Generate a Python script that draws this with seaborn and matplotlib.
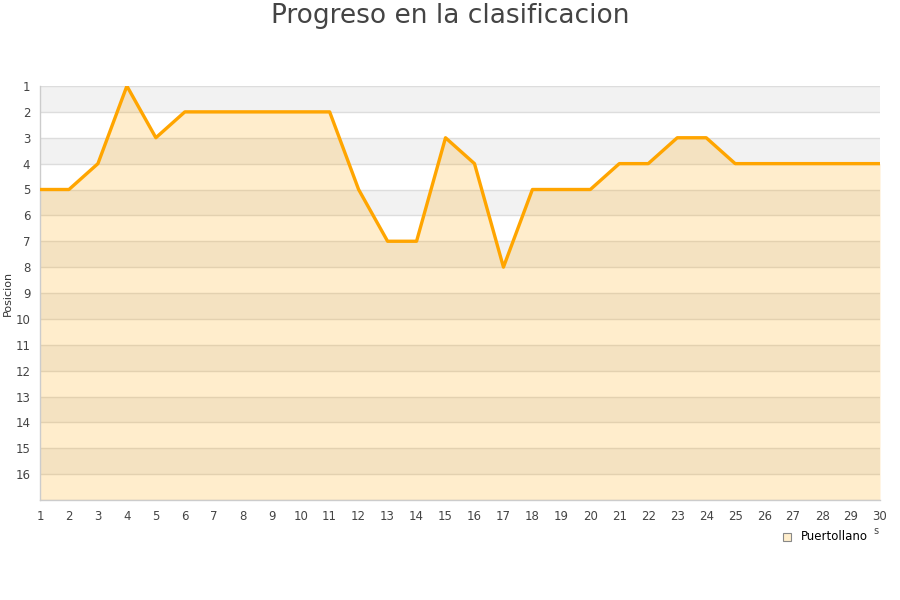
import matplotlib
matplotlib.use("Agg")
import matplotlib.pyplot as plt
import seaborn as sns
import pandas as pd

jornadas = list(range(1, 31))
posiciones = [5, 5, 4, 1, 3, 2, 2, 2, 2, 2, 2, 5, 7, 7, 3, 4, 8, 5, 5, 5,
              4, 4, 3, 3, 4, 4, 4, 4, 4, 4]
equipo = "Puertollano"
y_ticks = list(range(1, 17))

sns.set_theme(style="white")
plt.rcParams['font.family'] = ['DejaVu Sans']

df = pd.DataFrame({"Jornada": jornadas, "Posicion": posiciones})

fig = plt.figure(figsize=(9, 6), dpi=100)
ax = fig.add_axes([40/900, 100/600, 840/900, 414/600])

# alternating bands
for y in range(1, 17, 2):
    ax.axhspan(y, y + 1, color="#f2f2f2", zorder=0, lw=0)
for y in range(1, 18):
    ax.axhline(y, color="#dddddd", lw=1, zorder=1)

ax.fill_between(df["Jornada"], df["Posicion"], 17, color="#ffa500", alpha=0.2,
                lw=0, zorder=2)
sns.lineplot(data=df, x="Jornada", y="Posicion", ax=ax, color="#ffa500",
             lw=2.4, zorder=3)

ax.set_xlim(1, 30)
ax.set_ylim(17, 1)
ax.set_xticks(jornadas)
ax.set_yticks(y_ticks)
ax.tick_params(axis="both", labelsize=8.5, colors="#444444", length=0, pad=7)
ax.set_xlabel("")
ax.set_ylabel("Posicion", fontsize=8, color="#333333", labelpad=2)
for side in ["top", "right"]:
    ax.spines[side].set_visible(False)
for side in ["left", "bottom"]:
    ax.spines[side].set_color("#cccccc")
    ax.spines[side].set_linewidth(1)

fig.text(0.5, 1 - 16/600, "Progreso en la clasificacion", ha="center",
         va="center", fontsize=19, color="#444444")

# legend
lx, ly = 787/900, 1 - 537/600
fig.patches.append(plt.Rectangle((lx - 4/900, ly - 4/600), 8/900, 8/600,
                                 transform=fig.transFigure, facecolor="#ffeecc",
                                 edgecolor="#888888", lw=0.8))
fig.text(801/900, ly, equipo, fontsize=8.5, color="#000000", va="center", ha="left")
fig.text(876/900, 1 - 531/600, "s", fontsize=7, color="#444444", va="center", ha="center")

fig.savefig("out.png", dpi=100)
